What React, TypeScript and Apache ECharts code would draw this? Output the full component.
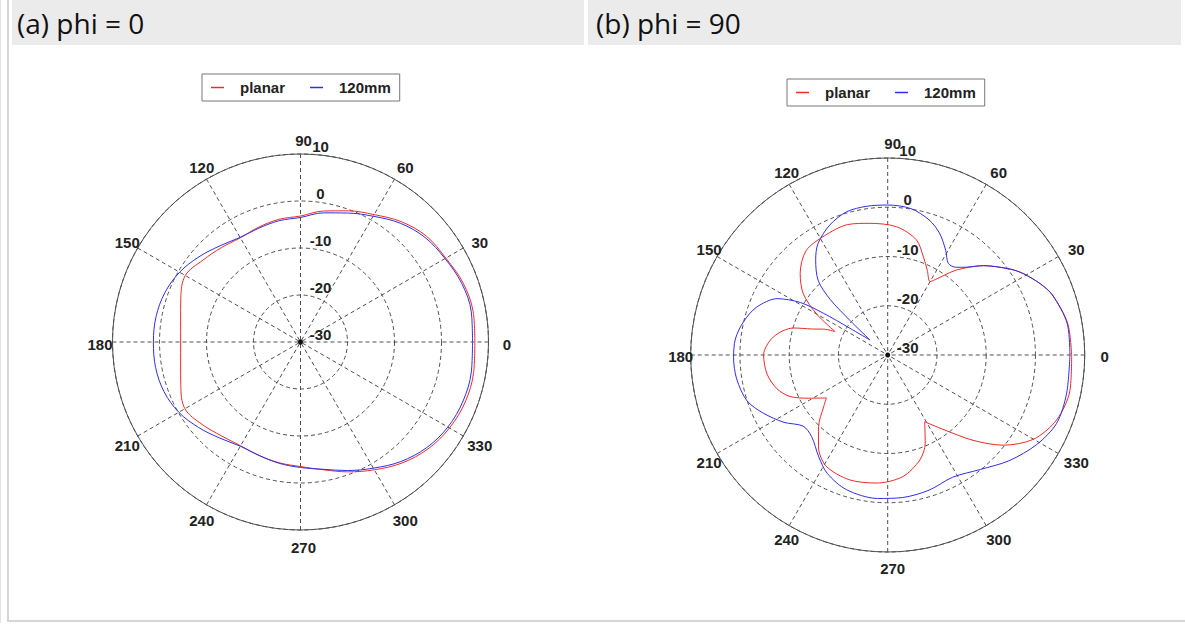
import React, { useEffect, useRef } from "react";
import * as echarts from "echarts";

// ---------- data ----------
const RADIUS_MIN = -30;
const RADIUS_MAX = 10;
const RADIUS_STEP = 10;
const ANGLE_STEP = 30;
const ANGLE_TICKS = [0, 30, 60, 90, 120, 150, 180, 210, 240, 270, 300, 330];

const SERIES_NAMES = ["planar", "120mm"];
const PANEL_TITLES = ["(a) phi = 0", "(b) phi = 90"];

// panel (a) phi = 0, every 10 degrees (0..360)
const ANGLES_A = [
  0, 10, 20, 30, 40, 50, 60, 70, 80, 90, 100, 110, 120, 130, 140, 150, 160, 170,
  180, 190, 200, 210, 220, 230, 240, 250, 260, 270, 280, 290, 300, 310, 320, 330,
  340, 350, 360,
];
const PLANAR_A = [
  7.1, 7.3, 6.8, 5.7, 5.0, 3.4, 1.3, -0.3, -1.7, -3.2, -3.5, -4.0, -4.4, -3.8,
  -2.9, -1.7, -2.9, -4.1, -4.5, -4.1, -2.9, -1.6, -2.7, -3.9, -4.5, -4.3, -3.9,
  -3.5, -2.4, -0.6, 1.4, 3.6, 5.4, 6.6, 7.3, 7.4, 7.1,
];
const MM120_A = [
  6.6, 6.9, 6.5, 5.5, 4.6, 3.0, 0.9, -0.8, -2.1, -3.5, -3.8, -4.2, -4.3, -3.3,
  -1.8, -0.3, 0.7, 1.2, 1.3, 1.3, 0.9, -0.1, -1.7, -3.3, -4.4, -4.3, -3.8, -3.3,
  -2.5, -0.9, 1.0, 3.2, 5.0, 6.2, 6.8, 6.9, 6.6,
];

// panel (b) phi = 90
const PLANAR_B_ANGLES = [
  0, 10, 20, 25, 31, 35, 43, 51, 57, 60, 65, 70, 76, 86, 98, 107, 118, 128, 137,
  144, 150, 156, 158, 161, 164, 171, 180, 189, 197, 203, 209, 215, 219, 226, 233,
  241, 253, 265, 277, 287, 293, 299, 307, 315, 322, 330, 339, 349, 360,
];
const PLANAR_B = [
  7.35, 7.1, 5.6, 4.2, 2.1, 0.4, -3.4, -7.8, -11.5, -12.8, -11.0, -8.8, -5.9,
  -3.9, -3.0, -2.3, -2.6, -3.1, -5.7, -8.8, -13.3, -18.3, -16.0, -13.8, -10.1,
  -6.5, -4.8, -5.2, -6.5, -8.45, -11.9, -14.8, -13.25, -9.8, -6.65, -4.2, -3.5,
  -3.9, -5.1, -7.7, -10.5, -14.5, -11.0, -5.5, -0.25, 4.2, 6.75, 7.7, 7.35,
];
const MM120_B_ANGLES = [
  0, 10, 20, 25, 31, 35, 43, 48, 52, 56.5, 61, 67, 73, 81, 90, 98, 106, 114, 122,
  127, 133, 136, 137.5, 139.7, 144.7, 147, 149, 153, 160, 167, 174, 181, 189, 198,
  205, 213, 220, 227, 236, 243, 253, 266, 276, 287, 298, 309, 319, 329, 338, 348,
  360,
];
const MM120_B = [
  7.0, 7.0, 5.6, 4.2, 2.1, 0.4, -3.4, -6.0, -7.4, -7.7, -5.7, -3.1, -1.3, 0.1,
  0.45, 0.5, 0.25, -1.1, -3.3, -5.7, -9.3, -13.8, -19.6, -25.3, -20.6, -14.4,
  -9.3, -4.8, -1.65, 0.05, 1.1, 1.3, 1.05, 0.05, -2.1, -4.9, -7.55, -7.35, -5.0,
  -3.0, -1.4, -0.8, -0.9, -1.3, -1.9, -0.1, 2.7, 5.3, 7.0, 7.15, 7.0,
];

const COLORS = ["#ee2a2a", "#2f2fe6"];

// ---------- helpers ----------
const wrapAngle = (a: number) => (a < 90 ? a + 360 : a);
const toPolar = (angles: number[], values: number[]) =>
  angles.map((a, i) => [values[i], wrapAngle(a)]);

const GRID_COLOR = "#505050";
const LABEL_FONT = "Liberation Sans";
const LABEL_COLOR = "#222222";

export default function App() {
  const ref = useRef<HTMLDivElement>(null);

  useEffect(() => {
    if (!ref.current) return;
    const chart = echarts.init(ref.current, null, { renderer: "svg" });

    const polars = [
      { center: [300.5, 342], radius: 188 },
      { center: [887.7, 355], radius: 197 },
    ];
    // where the angle labels sit (in radius-axis units, just outside the rim)
    const labelRadius = [13.3, 13.05];
    const labelOffset = [
      [3, 2],
      [5, 1],
    ];

    const angleAxis = polars.map((_, i) => ({
      polarIndex: i,
      type: "value",
      min: 90,
      max: 450,
      interval: ANGLE_STEP,
      startAngle: 90,
      clockwise: false,
      axisLine: { show: true, lineStyle: { color: GRID_COLOR, width: 1 } },
      axisTick: { show: false },
      axisLabel: { show: false },
      splitLine: {
        show: true,
        lineStyle: { color: GRID_COLOR, width: 1, type: [4, 3] },
      },
    }));

    const radiusAxis = polars.map((_, i) => ({
      polarIndex: i,
      type: "value",
      min: RADIUS_MIN,
      max: RADIUS_MAX,
      interval: RADIUS_STEP,
      axisLine: { show: false },
      axisTick: { show: false },
      axisLabel: {
        show: true,
        margin: -20,
        align: "center",
        verticalAlign: "bottom",
        color: LABEL_COLOR,
        fontSize: 15,
        fontWeight: "bold",
        fontFamily: LABEL_FONT,
      },
      splitLine: {
        show: true,
        lineStyle: { color: GRID_COLOR, width: 1, type: [4, 3] },
      },
    }));

    const legendPos = [
      { left: 202, top: 74 },
      { left: 787, top: 79 },
    ];
    const legend = legendPos.map((p) => ({
      ...p,
      orient: "horizontal",
      data: SERIES_NAMES,
      icon: "rect",
      itemWidth: 13,
      itemHeight: 1.5,
      itemGap: 25,
      padding: [6, 9, 6, 9],
      borderColor: "#777",
      borderWidth: 1,
      backgroundColor: "#fff",
      selectedMode: false,
      textStyle: {
        fontSize: 15,
        fontWeight: "bold",
        color: LABEL_COLOR,
        fontFamily: LABEL_FONT,
        padding: [0, 0, 0, 11],
      },
    }));

    const curves = [
      [toPolar(ANGLES_A, PLANAR_A), toPolar(ANGLES_A, MM120_A)],
      [toPolar(PLANAR_B_ANGLES, PLANAR_B), toPolar(MM120_B_ANGLES, MM120_B)],
    ];

    const series: any[] = [];
    curves.forEach((pair, pi) => {
      pair.forEach((data, si) => {
        series.push({
          type: "line",
          name: SERIES_NAMES[si],
          coordinateSystem: "polar",
          polarIndex: pi,
          data,
          symbol: "none",
          smooth: pi === 0 ? 0.35 : 0.3,
          clip: false,
          color: COLORS[si],
          lineStyle: { color: COLORS[si], width: 1 },
          itemStyle: { color: COLORS[si] },
          z: 3,
        });
      });
      // centre marker
      series.push({
        type: "scatter",
        name: "origin" + pi,
        coordinateSystem: "polar",
        polarIndex: pi,
        data: [[RADIUS_MIN, 90]],
        symbol: "circle",
        symbolSize: 5,
        itemStyle: { color: "#111", opacity: 1 },
        silent: true,
        z: 4,
      });
      // angle tick labels, centred on a circle just outside the rim
      series.push({
        type: "scatter",
        name: "angleLabels" + pi,
        coordinateSystem: "polar",
        polarIndex: pi,
        clip: false,
        silent: true,
        symbol: "circle",
        symbolSize: 1,
        itemStyle: { color: "rgba(255,255,255,0)", opacity: 1 },
        data: ANGLE_TICKS.map((a) => ({
          name: String(a),
          value: [labelRadius[pi], wrapAngle(a)],
        })),
        label: {
          show: true,
          position: "inside",
          offset: labelOffset[pi],
          formatter: "{b}",
          color: LABEL_COLOR,
          opacity: 1,
          fontSize: 15,
          fontWeight: "bold",
          fontFamily: LABEL_FONT,
        },
        z: 4,
      });
    });

    const border = "#d6d6d6";
    const titleFont = '28px "Open Sans"';
    const graphic = [
      {
        type: "rect",
        shape: { x: 12, y: 0, width: 572, height: 45 },
        style: { fill: "#ebebeb" },
        silent: true,
      },
      {
        type: "rect",
        shape: { x: 588, y: 0, width: 593, height: 45 },
        style: { fill: "#ebebeb" },
        silent: true,
      },
      {
        type: "text",
        x: 17,
        y: 23,
        style: {
          text: PANEL_TITLES[0],
          font: titleFont,
          fill: "#111",
          verticalAlign: "middle",
        },
        silent: true,
      },
      {
        type: "text",
        x: 596,
        y: 23,
        style: {
          text: PANEL_TITLES[1],
          font: titleFont,
          fill: "#111",
          verticalAlign: "middle",
        },
        silent: true,
      },
      {
        type: "line",
        shape: { x1: 0.5, y1: 0, x2: 0.5, y2: 623 },
        style: { stroke: "#e2e2e2", lineWidth: 1 },
        silent: true,
      },
      {
        type: "line",
        shape: { x1: 8, y1: 0, x2: 8, y2: 622 },
        style: { stroke: border, lineWidth: 2 },
        silent: true,
      },
      {
        type: "line",
        shape: { x1: 7, y1: 621, x2: 1185, y2: 621 },
        style: { stroke: border, lineWidth: 2 },
        silent: true,
      },
    ];

    chart.setOption({
      animation: false,
      backgroundColor: "#fff",
      polar: polars,
      angleAxis,
      radiusAxis,
      legend,
      series,
      graphic,
    });

    return () => chart.dispose();
  }, []);

  return (
    <div
      ref={ref}
      style={{ position: "absolute", left: 0, top: 0, width: 1185, height: 627 }}
    />
  );
}
